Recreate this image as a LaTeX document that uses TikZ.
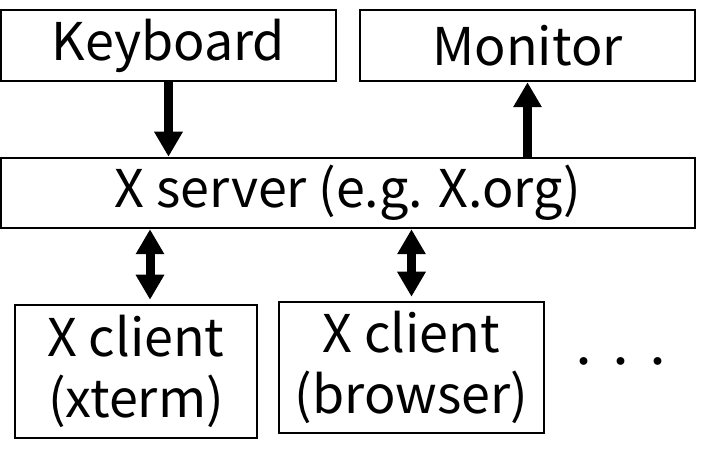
\documentclass[tikz,border=0pt]{standalone}
\usepackage{fontspec}
\setmainfont{Noto Sans CJK JP}
\usetikzlibrary{arrows.meta}

\begin{document}
\begin{tikzpicture}[x=1pt,y=-1pt,
  box/.style={draw, line width=2.5pt, inner sep=0pt, align=center, font=\fontsize{52}{61}\selectfont},
  flow/.style={line width=9pt, -{Triangle[width=27pt,length=25pt]}},
  both/.style={line width=9pt, {Triangle[width=27pt,length=25pt]}-{Triangle[width=27pt,length=25pt]}}]

\useasboundingbox (0,0) rectangle (701,462);

\node[box, minimum width=335pt, minimum height=71pt] (keyboard) at (168.5,45.5){Keyboard};
\node[box, minimum width=335pt, minimum height=71pt] (monitor) at (527.5,45.5){Monitor};
\node[box, minimum width=694pt, minimum height=70pt] (xserver) at (348,193){X server (e.g. X.org)};

\node[box, minimum width=242pt, minimum height=133pt] (xterm) at (136,371.5){X client\\(xterm)};
\node[box, minimum width=265pt, minimum height=131pt] (browser) at (411.5,367.5){X client\\(browser)};
\node[font=\fontsize{37}{37}\selectfont] (more) at (621,367){・・・};

\draw[flow] (keyboard.south) -- (keyboard.south |- xserver.north);
\draw[flow] (monitor.south |- xserver.north) -- (monitor.south);

\coordinate (xtermtop) at ([xshift=14pt]xterm.north);
\draw[both, shorten >=4pt] (xtermtop |- xserver.south) -- (xtermtop);
\draw[both, shorten >=4pt] (browser.north |- xserver.south) -- (browser.north);

\end{tikzpicture}
\end{document}
